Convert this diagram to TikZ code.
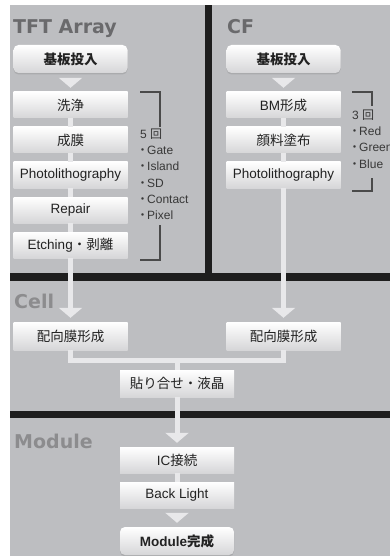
\documentclass[tikz,border=0pt]{standalone}
\usepackage{fontspec}
\setmainfont{Liberation Sans}
\newfontfamily\cjk{Noto Sans CJK JP}
\newfontfamily\ttlfont{DejaVu Sans}
\usetikzlibrary{arrows.meta,shadows}
\definecolor{bgc}{HTML}{BDBEC1}
\definecolor{barc}{HTML}{1E1E1E}
\definecolor{connc}{HTML}{E8E8EA}
\definecolor{ttldark}{HTML}{6A6A6C}
\definecolor{ttllight}{HTML}{8C8C8E}
\definecolor{boxbot}{HTML}{D6D6D8}
\definecolor{txt}{HTML}{222222}
\definecolor{brkc}{HTML}{4A4A4A}
\tikzset{
  title/.style={anchor=base west, inner sep=0pt, font=\ttlfont\bfseries\fontsize{19}{19}\selectfont},
  box/.style={rectangle, minimum width=114pt, minimum height=26pt, inner sep=0pt,
    top color=white, bottom color=boxbot, text=txt, font=\fontsize{13.5}{15}\selectfont},
  rbox/.style={box, rounded corners=5pt, minimum height=28pt,
    font=\bfseries\fontsize{13.5}{15}\selectfont,
    drop shadow={shadow xshift=0pt, shadow yshift=-1.5pt, opacity=0.3}},
  conn/.style={draw=connc, line width=5pt},
  arr/.style={conn, -{Triangle[width=23pt,length=10pt]}, shorten >=4pt},
  brk/.style={draw=brkc, line width=1.1pt},
  note/.style={anchor=base west, inner sep=0pt, text=txt!90, font=\fontsize{12}{14}\selectfont}
}
\begin{document}
\begin{tikzpicture}[x=1pt,y=-1pt]
\useasboundingbox (0,0) rectangle (390,556);
\fill[white] (0,0) rectangle (390,556);
\fill[bgc] (10,5) rectangle (390,556);
% dividers
\fill[barc] (205,5) rectangle (212,273);
\fill[barc] (10,273) rectangle (390,281);
\fill[barc] (10,411) rectangle (390,418);
% titles
\node[title, text=ttldark] (ttft) at (13,34) {TFT Array};
\node[title, text=ttldark] (tcf) at (227,34) {CF};
\node[title, text=ttllight] (tcell) at (14,308) {Cell};
\node[title, text=ttllight] (tmod) at (14,448) {Module};
% TFT column
\node[rbox] (t0) at (70.5,59) {\cjk 基板投入};
\node[box] (t1) at (70.5,105) {\cjk 洗浄};
\node[box] (t2) at (70.5,140) {\cjk 成膜};
\node[box] (t3) at (70.5,175) {Photolithography};
\node[box] (t4) at (70.5,210) {Repair};
\node[box] (t5) at (70.5,245) {Etching{\cjk ・剥離}};
% CF column
\node[rbox] (c0) at (283.5,59) {\cjk 基板投入};
\node[box] (c1) at (283.5,105) {BM{\cjk 形成}};
\node[box] (c2) at (283.5,140) {\cjk 顔料塗布};
\node[box] (c3) at (283.5,175) {Photolithography};
% Cell
\node[box, minimum height=28pt] (l) at (70.5,336) {\cjk 配向膜形成};
\node[box, minimum height=28pt] (r) at (283.5,336) {\cjk 配向膜形成};
\node[box, minimum height=27pt] (g) at (177,383.5) {\cjk 貼り合せ・液晶};
% Module
\node[box] (m1) at (177,460) {IC{\cjk 接続}};
\node[box] (m2) at (177,495) {Back Light};
\node[rbox] (m3) at (177,541) {Module{\cjk 完成}};
% connectors
\draw[arr, shorten <=5pt] (t0.south) -- (t1.north);
\draw[conn] (t1.south) -- (t2.north);
\draw[conn] (t2.south) -- (t3.north);
\draw[conn] (t3.south) -- (t4.north);
\draw[conn] (t4.south) -- (t5.north);
\draw[arr] (t5.south) -- (l.north);
\draw[arr, shorten <=5pt] (c0.south) -- (c1.north);
\draw[conn] (c1.south) -- (c2.north);
\draw[conn] (c2.south) -- (c3.north);
\draw[arr] (c3.south) -- (r.north);
\coordinate (j) at (177,360);
\draw[conn] (l.south) |- (j) -| (r.south);
\draw[conn] (j) -- (g.north);
\draw[arr] (g.south) -- (m1.north);
\draw[conn] (m1.south) -- (m2.north);
\draw[arr, shorten <=5pt] (m2.south) -- (m3.north);
% TFT bracket
\draw[brk] (140,92) -- (160,92) -- (160,127);
\draw[brk] (160,225) -- (160,260) -- (140,260);
\node[note] (n0) at (140,139) {5 {\cjk 回}};
\node[note] (n1) at (140,155) {{\cjk\kern-3.5pt ・\kern-1.5pt}Gate};
\node[note] (n2) at (140,171) {{\cjk\kern-3.5pt ・\kern-1.5pt}Island};
\node[note] (n3) at (140,187) {{\cjk\kern-3.5pt ・\kern-1.5pt}SD};
\node[note] (n4) at (140,203) {{\cjk\kern-3.5pt ・\kern-1.5pt}Contact};
\node[note] (n5) at (140,219) {{\cjk\kern-3.5pt ・\kern-1.5pt}Pixel};
% CF bracket
\draw[brk] (352,92) -- (372,92) -- (372,106);
\draw[brk] (372,178) -- (372,191) -- (352,191);
\node[note] (k0) at (352,120) {3 {\cjk 回}};
\node[note] (k1) at (352,136) {{\cjk\kern-3.5pt ・\kern-1.5pt}Red};
\node[note] (k2) at (352,152) {{\cjk\kern-3.5pt ・\kern-1.5pt}Green};
\node[note] (k3) at (352,168) {{\cjk\kern-3.5pt ・\kern-1.5pt}Blue};
\end{tikzpicture}
\end{document}
